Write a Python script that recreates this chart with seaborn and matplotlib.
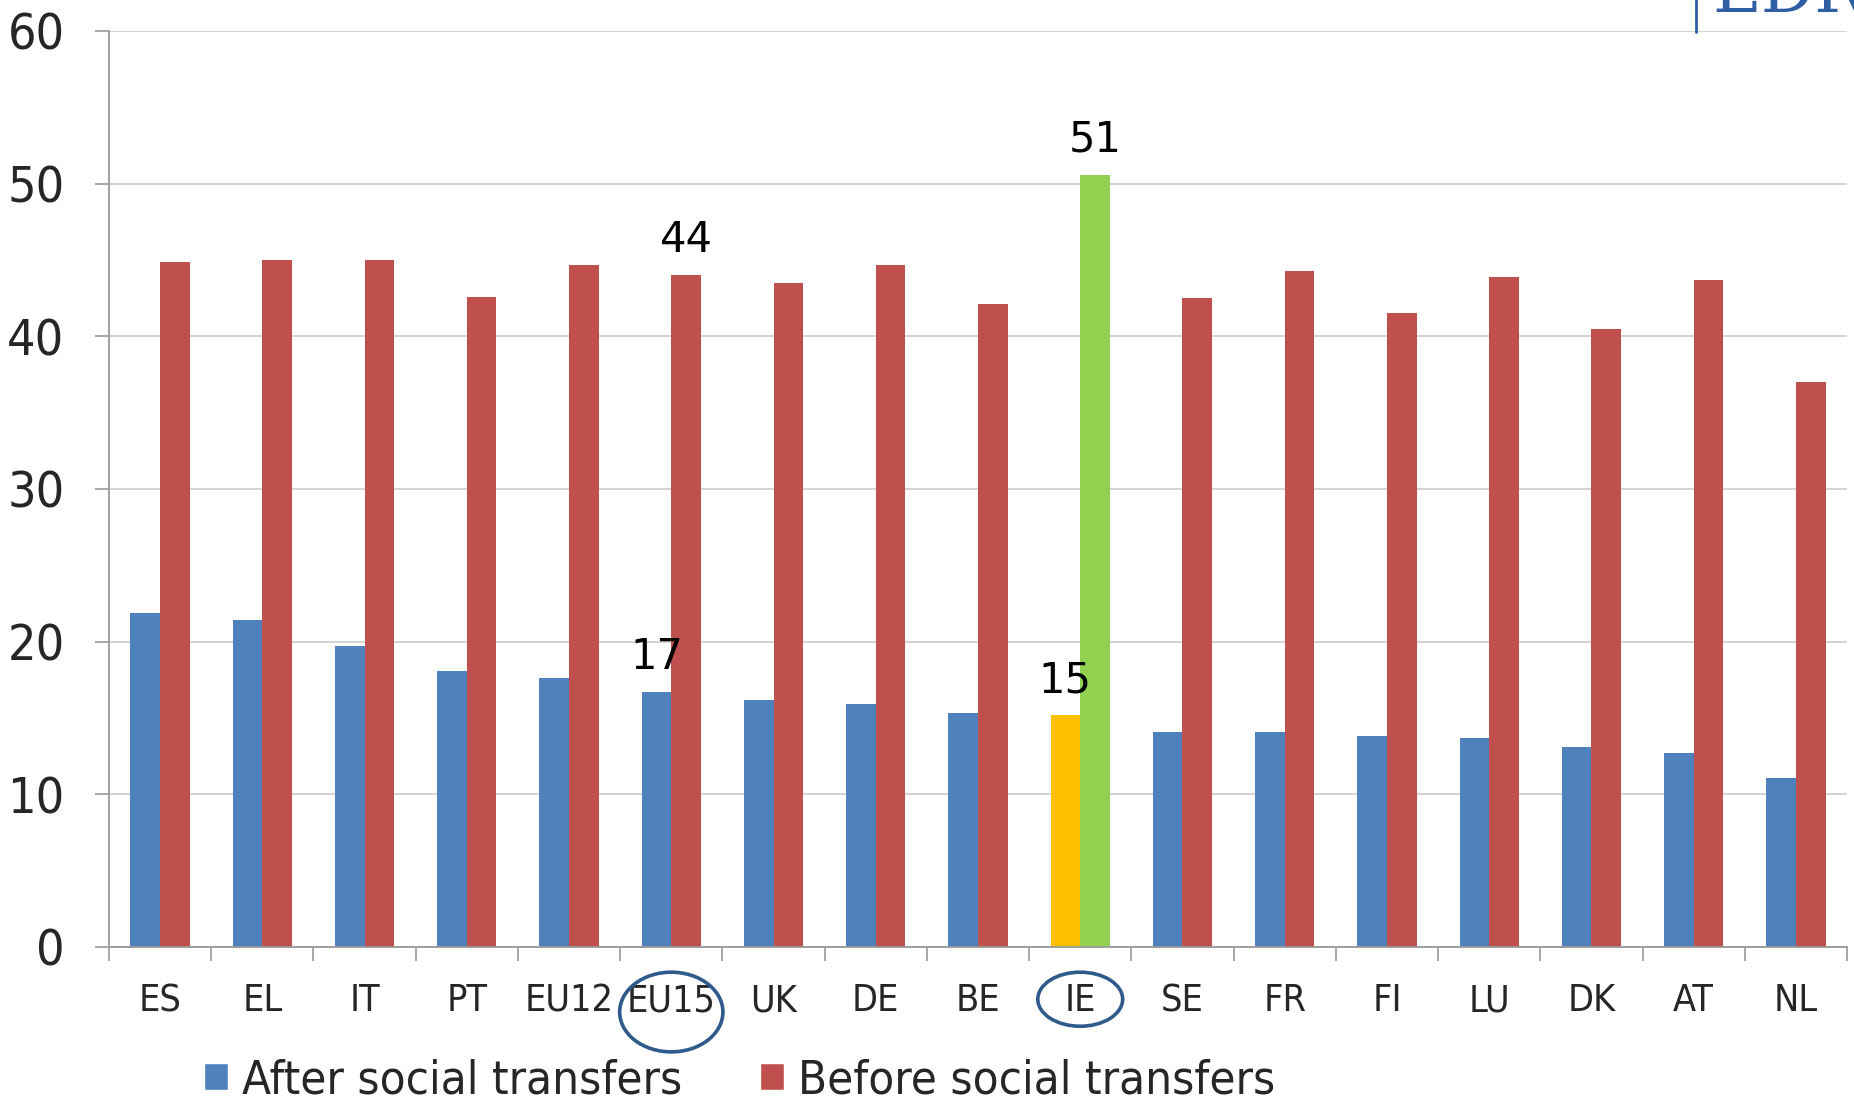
import matplotlib
matplotlib.use("Agg")
import matplotlib.pyplot as plt
from matplotlib.patches import Ellipse, Patch
from matplotlib import font_manager
import seaborn as sns
import pandas as pd

countries = ["ES", "EL", "IT", "PT", "EU12", "EU15", "UK", "DE", "BE", "IE",
             "SE", "FR", "FI", "LU", "DK", "AT", "NL"]
after_transfers = [21.9, 21.4, 19.7, 18.1, 17.6, 16.7, 16.2, 15.9, 15.3, 15.2,
                   14.1, 14.1, 13.8, 13.7, 13.1, 12.7, 11.1]
before_transfers = [44.9, 45.0, 45.0, 42.6, 44.7, 44.0, 43.5, 44.7, 42.1, 50.6,
                    42.5, 44.3, 41.5, 43.9, 40.5, 43.7, 37.0]
series_names = ["After social transfers", "Before social transfers"]
yticks = [0, 10, 20, 30, 40, 50, 60]
labelled = ["EU15", "IE"]
circled = ["EU15", "IE"]

BLUE, RED = "#4f81bd", "#c0504d"
ORANGE, GREEN = "#ffc000", "#92d050"
RING = "#2f5b8c"

df = pd.DataFrame({
    "country": countries * 2,
    "series": [series_names[0]] * len(countries) + [series_names[1]] * len(countries),
    "value": after_transfers + before_transfers,
})

sns.set_theme(style="white")

# Prefer a narrow sans face for axis text
installed = {(f.name, f.stretch) for f in font_manager.fontManager.ttflist}
names = {n for n, _ in installed}
if "Liberation Sans Narrow" in names:
    narrow = dict(family="Liberation Sans Narrow")
elif ("DejaVu Sans", "condensed") in installed or "DejaVu Sans Condensed" in names:
    narrow = dict(family="DejaVu Sans", stretch="condensed")
elif "Roboto Condensed" in names:
    narrow = dict(family="Roboto Condensed")
else:
    narrow = dict(family="Roboto")
plt.rcParams["font.family"] = [narrow["family"], "DejaVu Sans"]
if "stretch" in narrow:
    plt.rcParams["font.stretch"] = narrow["stretch"]

fig = plt.figure(figsize=(18.54, 11.03), dpi=100)
ax = fig.add_axes([109 / 1854, 1 - 947 / 1103, 1738 / 1854, 916 / 1103])

sns.barplot(data=df, x="country", y="value", hue="series", order=countries,
            hue_order=series_names, palette=[BLUE, RED], width=0.58,
            saturation=1, linewidth=0, legend=False, ax=ax)

# Highlight Ireland
ie = countries.index("IE")
ax.containers[0][ie].set_facecolor(ORANGE)
ax.containers[1][ie].set_facecolor(GREEN)

# Value labels for the highlighted groups
for c in labelled:
    i = countries.index(c)
    for k, vals in enumerate([after_transfers, before_transfers]):
        bar = ax.containers[k][i]
        x = bar.get_x() + bar.get_width() / 2
        ax.annotate(f"{vals[i]:.0f}", (x, vals[i]), xytext=(0, 10),
                    textcoords="offset points", ha="center", va="bottom",
                    fontsize=30, family="DejaVu Sans", stretch="normal",
                    color="black")

ax.set_xlim(-0.5, len(countries) - 0.5)
ax.set_ylim(0, 60)
ax.set_yticks(yticks)
ax.set_xlabel("")
ax.set_ylabel("")

ax.grid(axis="y", color="#cccccc", linewidth=1.2)
ax.set_axisbelow(True)
for side in ["top", "right"]:
    ax.spines[side].set_visible(False)
for side in ["left", "bottom"]:
    ax.spines[side].set_color("#999999")
    ax.spines[side].set_linewidth(1.3)

ax.tick_params(axis="y", which="major", length=10, width=1.2, color="#999999",
               direction="out", pad=22, labelsize=36, left=True)
ax.tick_params(axis="x", which="major", length=0, pad=26, labelsize=27)
ax.set_xticks([i + 0.5 for i in range(-1, len(countries))], minor=True)
ax.tick_params(axis="x", which="minor", length=10, width=1.2, color="#999999",
               direction="out", bottom=True)

# Rings around selected category labels
ring_specs = {"EU15": (1.01, 0.087, -0.071), "IE": (0.83, 0.059, -0.057)}
for c in circled:
    w, h, yc = ring_specs[c]
    ax.add_patch(Ellipse((countries.index(c), yc), w, h,
                         transform=ax.get_xaxis_transform(), fill=False,
                         edgecolor=RING, linewidth=2.6, clip_on=False))

handles = [Patch(facecolor=BLUE), Patch(facecolor=RED)]
fig.legend(handles, series_names, loc="center left",
           bbox_to_anchor=(204 / 1854, 1 - 1081 / 1103), ncol=2, frameon=False,
           fontsize=34, handlelength=0.5, handleheight=0.5, handletextpad=0.3,
           columnspacing=1.65, borderaxespad=0, borderpad=0)

# Logo fragment at the top right
fig.add_artist(plt.Line2D([1696 / 1854, 1696 / 1854], [1, 1 - 32 / 1103],
                          transform=fig.transFigure, color="#2e5fa3", linewidth=2))
fig.text(1712 / 1854, 1 + 7 / 1103, "EDR", transform=fig.transFigure,
         ha="left", va="center", fontsize=48, family="DejaVu Serif",
         stretch="normal", color="#2e5fa3")

fig.savefig("out.png", dpi=100)
